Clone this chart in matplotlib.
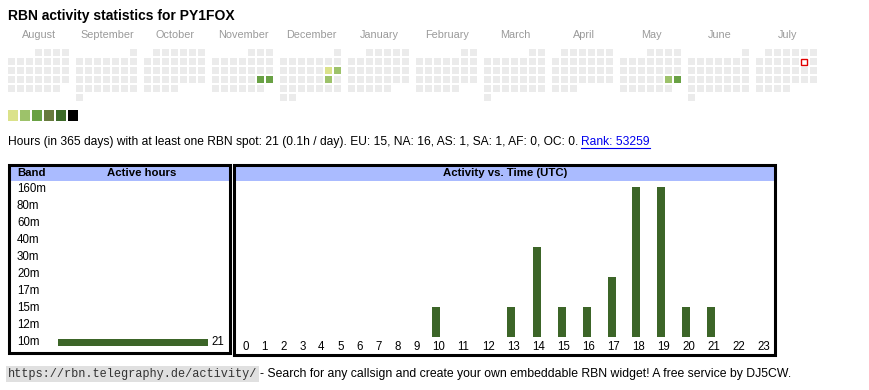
import datetime as dt
import calendar
import numpy as np
import matplotlib
matplotlib.use("Agg")
import matplotlib.pyplot as plt
from matplotlib.patches import Rectangle

# ---------------- data ----------------
title = "RBN activity statistics for PY1FOX"
month_names = ["August", "September", "October", "November", "December", "January",
               "February", "March", "April", "May", "June", "July"]
month_years = [2024, 2024, 2024, 2024, 2024, 2025, 2025, 2025, 2025, 2025, 2025, 2025]
month_numbers = [8, 9, 10, 11, 12, 1, 2, 3, 4, 5, 6, 7]
today = "2025-07-12"
active_days = ["2024-11-23", "2024-11-24", "2024-12-14", "2024-12-15",
               "2024-12-21", "2025-05-24", "2025-05-25"]
active_levels = [3, 3, 1, 2, 2, 2, 3]
level_colors = ["#dbe28a", "#9dc26a", "#69a144", "#677a3d", "#3c6a28", "#000000"]
summary = ("Hours (in 365 days) with at least one RBN spot: 21 (0.1h / day). "
           "EU: 15, NA: 16, AS: 1, SA: 1, AF: 0, OC: 0.")
rank_text = "Rank: 53259"
bands = ["160m", "80m", "60m", "40m", "30m", "20m", "17m", "15m", "12m", "10m"]
band_hours = [0, 0, 0, 0, 0, 0, 0, 0, 0, 21]
hours = list(range(24))
hour_counts = [0, 0, 0, 0, 0, 0, 0, 0, 0, 0, 1, 0, 0, 1, 3, 1, 1, 2, 5, 5, 1, 1, 0, 0]
footer_url = "https://rbn.telegraphy.de/activity/"
footer_text = "- Search for any callsign and create your own embeddable RBN widget! A free service by DJ5CW."

# ---------------- style ----------------
W, H = 870, 390
SANS = ["Liberation Sans", "DejaVu Sans"]
MONO = ["Liberation Mono", "DejaVu Sans Mono"]
BAR = "#3c6528"
HEAD = "#aabbff"
EMPTY = "#ebebeb"
plt.rcParams["font.family"] = SANS

fig = plt.figure(figsize=(W / 100, H / 100), dpi=100)
cv = fig.add_axes([0, 0, 1, 1])
cv.set_xlim(0, W)
cv.set_ylim(H, 0)
cv.axis("off")


def px_axes(x0, y0, x1, y1):
    a = fig.add_axes([x0 / W, 1 - y1 / H, (x1 - x0) / W, (y1 - y0) / H])
    a.axis("off")
    return a


renderer = fig.canvas.get_renderer()

# title
cv.text(8, 16, title, fontsize=10.0, fontweight="bold", va="center", ha="left")

# ---------------- calendar ----------------
level_of = {dt.date.fromisoformat(d): l for d, l in zip(active_days, active_levels)}
today_d = dt.date.fromisoformat(today)
CELL, PITCH, MPITCH, CX0, CY0 = 7, 9, 68, 8, 49
for i, (name, yr, mo) in enumerate(zip(month_names, month_years, month_numbers)):
    x0 = CX0 + MPITCH * i
    cv.text(x0 + 31.5, 35, name, fontsize=7.8, color="#9a9a9a", ha="center", va="center")
    first = dt.date(yr, mo, 1)
    off = first.weekday()
    for d in range(calendar.monthrange(yr, mo)[1]):
        day = first + dt.timedelta(days=d)
        k = off + d
        r, c = divmod(k, 7)
        x, y = x0 + c * PITCH, CY0 + r * PITCH
        if day == today_d:
            cv.add_patch(Rectangle((x + 0.5, y + 0.5), CELL - 1, CELL - 1, facecolor="white",
                                   edgecolor="#e00000", linewidth=1.0))
        else:
            lv = level_of.get(day)
            col = level_colors[lv - 1] if lv else EMPTY
            cv.add_patch(Rectangle((x, y), CELL, CELL, facecolor=col, edgecolor="none"))

for j, c in enumerate(level_colors):
    cv.add_patch(Rectangle((8 + 12 * j, 110), 10, 11, facecolor=c, edgecolor="none"))

# summary line
t = cv.text(8, 142, summary, fontsize=8.65, va="center", ha="left")
bb = t.get_window_extent(renderer)
rx = bb.x1 + 3
rt = cv.text(rx, 142, rank_text, fontsize=8.65, va="center", ha="left", color="#0000ee")
rb = rt.get_window_extent(renderer)
cv.plot([rb.x0, rb.x1], [147.8, 147.8], color="#0000ee", linewidth=0.8)

# ---------------- left table ----------------
cv.add_patch(Rectangle((9, 165), 222, 16, facecolor=HEAD, edgecolor="none"))
cv.add_patch(Rectangle((9.5, 164.5), 221, 188, facecolor="none", edgecolor="black", linewidth=2.2))
cv.text(17, 173, "Band", fontsize=8.2, fontweight="bold", va="center", ha="left")
cv.text(142, 173, "Active hours", fontsize=8.2, fontweight="bold", va="center", ha="center")
for i, b in enumerate(bands):
    cv.text(17, 189.3 + 17 * i, b, fontsize=8.3, va="center", ha="left")

axb = px_axes(58, 180.8, 208, 350.8)
axb.set_xlim(0, max(band_hours))
axb.set_ylim(len(bands) - 0.5, -0.5)
ypos = np.arange(len(bands))
axb.barh(ypos, band_hours, height=7 / 17, color=BAR)
for yy, v in zip(ypos, band_hours):
    if v > 0:
        axb.annotate(str(v), xy=(v, yy), xytext=(3, 0), textcoords="offset pixels",
                     va="center", ha="left", fontsize=8.3, annotation_clip=False)

# ---------------- right chart ----------------
cv.add_patch(Rectangle((235, 165), 541, 16, facecolor=HEAD, edgecolor="none"))
cv.add_patch(Rectangle((234.5, 164.5), 541, 190, facecolor="none", edgecolor="black", linewidth=2.2))
cv.text(505, 173, "Activity vs. Time (UTC)", fontsize=8.2, fontweight="bold", va="center", ha="center")

labels = [str(h) for h in hours]
widths = np.array([13 + 6 * len(s) for s in labels], dtype=float)
centers = np.cumsum(widths) - widths / 2
axh = px_axes(236, 187, 236 + widths.sum(), 337)
axh.set_xlim(0, widths.sum())
axh.set_ylim(0, max(hour_counts))
axh.bar(centers - 2, hour_counts, width=8, color=BAR)
for cx, s in zip(centers, labels):
    axh.annotate(s, xy=(cx, 0), xytext=(0, -10), textcoords="offset pixels",
                 va="center", ha="center", fontsize=8.3, annotation_clip=False)

# ---------------- footer ----------------
ft = cv.text(8, 374, footer_url, fontsize=8.6, family=MONO, va="center", ha="left", color="#333333",
             bbox=dict(facecolor="#e0e0e0", edgecolor="none", pad=1.2))
fb = ft.get_window_extent(renderer)
cv.text(fb.x1 + 3, 374, footer_text, fontsize=8.8, va="center", ha="left")

fig.savefig("out.png", dpi=100)
